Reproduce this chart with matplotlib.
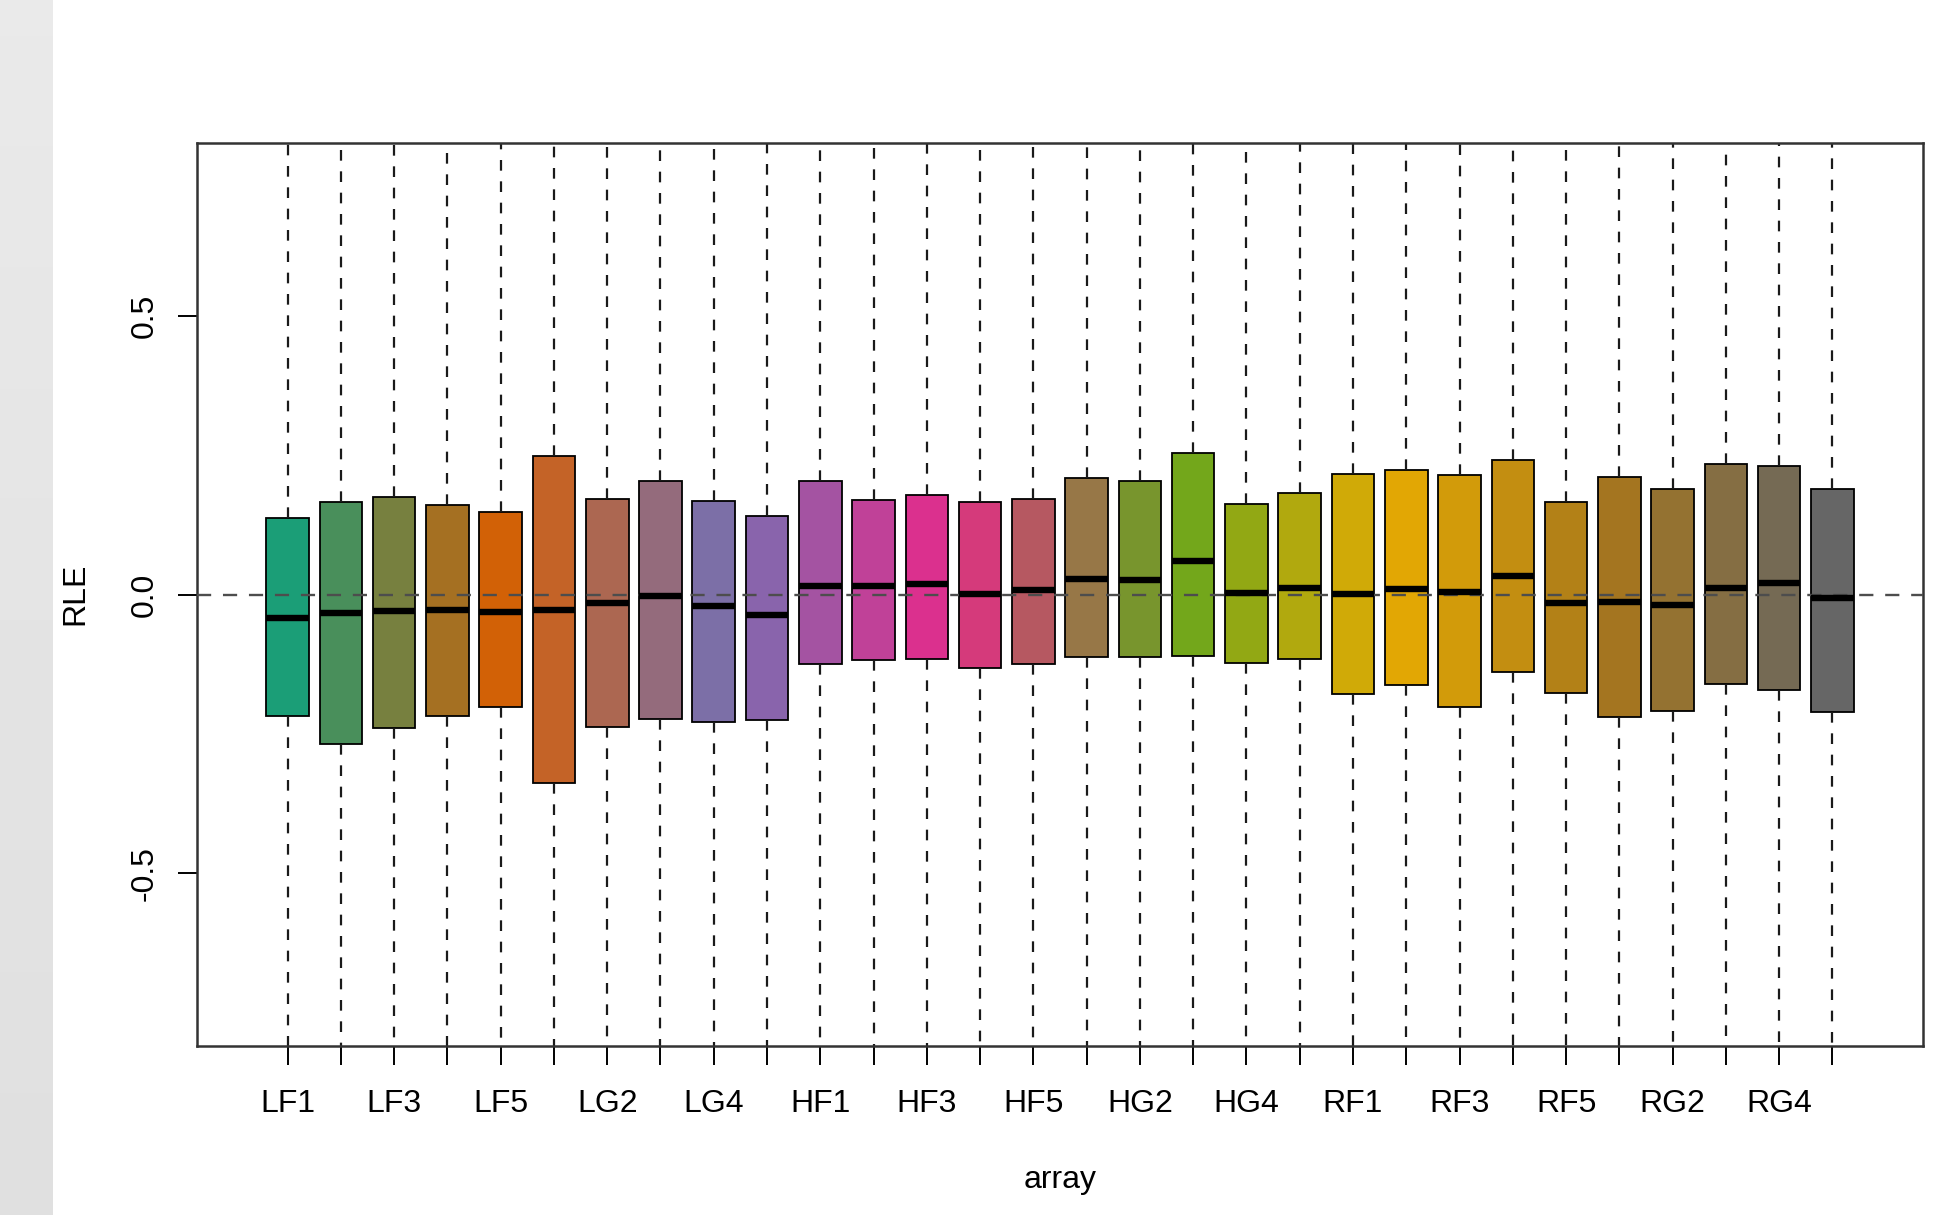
import numpy as np
import matplotlib
matplotlib.use("Agg")
from matplotlib import pyplot as plt
from matplotlib.colors import LinearSegmentedColormap

# arrays in plotting order
arrays = [f"{g}{i}" for g in ["LF", "LG", "HF", "HG", "RF", "RG"] for i in range(1, 6)]

# RLE box statistics
q3 = [0.137, 0.166, 0.175, 0.161, 0.148, 0.249, 0.172, 0.204, 0.168, 0.141,
      0.203, 0.170, 0.178, 0.166, 0.172, 0.209, 0.203, 0.254, 0.163, 0.182,
      0.217, 0.224, 0.215, 0.241, 0.166, 0.210, 0.189, 0.235, 0.231, 0.189]
medians = [-0.043, -0.033, -0.030, -0.027, -0.031, -0.027, -0.016, -0.002, -0.020, -0.037,
           0.016, 0.015, 0.018, 0.001, 0.008, 0.028, 0.026, 0.060, 0.003, 0.012,
           0.001, 0.010, 0.004, 0.033, -0.016, -0.013, -0.019, 0.011, 0.020, -0.007]
q1 = [-0.218, -0.269, -0.239, -0.218, -0.202, -0.339, -0.237, -0.224, -0.228, -0.225,
      -0.125, -0.118, -0.115, -0.132, -0.124, -0.112, -0.112, -0.110, -0.122, -0.115,
      -0.179, -0.163, -0.201, -0.139, -0.176, -0.219, -0.209, -0.161, -0.171, -0.210]
# whiskers run past the plotted range
whisker_lo = [-0.95] * 30
whisker_hi = [0.95] * 30

dark2 = ["#1B9E77", "#D95F02", "#7570B3", "#E7298A", "#66A61E", "#E6AB02", "#A6761D", "#666666"]

FONT = ["Liberation Sans Narrow", "Liberation Sans", "DejaVu Sans"]
plt.rcParams["font.family"] = FONT


def main() -> None:
    fig = plt.figure(figsize=(9.765, 6.075), dpi=200)

    # grey strip on the left edge
    strip = fig.add_axes([0, 0, 53 / 1953, 1])
    strip.imshow(np.linspace(0.915, 0.875, 100).reshape(-1, 1), cmap="gray", vmin=0, vmax=1,
                 aspect="auto", extent=[0, 1, 0, 1])
    strip.set_axis_off()

    ax = fig.add_axes([197 / 1953, 1 - 1046 / 1215, (1923 - 197) / 1953, (1046 - 143) / 1215])

    ramp = LinearSegmentedColormap.from_list("dark2ramp", dark2, N=len(arrays))
    colors = [ramp(i) for i in range(len(arrays))]

    stats = [dict(med=m, q1=a, q3=b, whislo=lo, whishi=hi, fliers=[])
             for m, a, b, lo, hi in zip(medians, q1, q3, whisker_lo, whisker_hi)]
    positions = np.arange(1, len(arrays) + 1)
    bp = ax.bxp(stats, positions=positions, widths=0.8, patch_artist=True, showcaps=False,
                boxprops=dict(edgecolor="black", linewidth=0.65),
                whiskerprops=dict(color="#1a1a1a", linewidth=0.8, linestyle=(0, (4.8, 4.8))),
                medianprops=dict(color="black", linewidth=2.3, solid_capstyle="butt"))
    for patch, c in zip(bp["boxes"], colors):
        patch.set_facecolor(c)

    ax.axhline(0, color="#4d4d4d", linewidth=0.85, linestyle=(0, (6, 5)), zorder=4)
    for med in bp["medians"]:
        med.set_zorder(5)

    ax.set_xlim(-0.7, 31.7)
    ax.set_ylim(-0.81, 0.81)

    ax.set_xticks(positions)
    ax.set_xticklabels([name if i % 2 == 0 else "" for i, name in enumerate(arrays)], fontsize=11.5)
    ax.set_yticks([-0.5, 0.0, 0.5])
    ax.set_yticklabels(["-0.5", "0.0", "0.5"], rotation=90, va="center", fontsize=11.5)
    ax.tick_params(axis="x", length=6.8, width=0.7, pad=8.5, colors="black")
    ax.tick_params(axis="y", length=6.8, width=0.7, pad=6.5, colors="black")
    for sp in ax.spines.values():
        sp.set_color("#333333")
        sp.set_linewidth(0.9)

    fig.text(1060 / 1953, 1 - 1180 / 1215, "array", ha="center", va="center", fontsize=11.5)
    fig.text(75 / 1953, 1 - 594 / 1215, "RLE", ha="center", va="center", rotation=90, fontsize=11.5)

    fig.savefig("out.png", dpi=200)


if __name__ == "__main__":
    main()
